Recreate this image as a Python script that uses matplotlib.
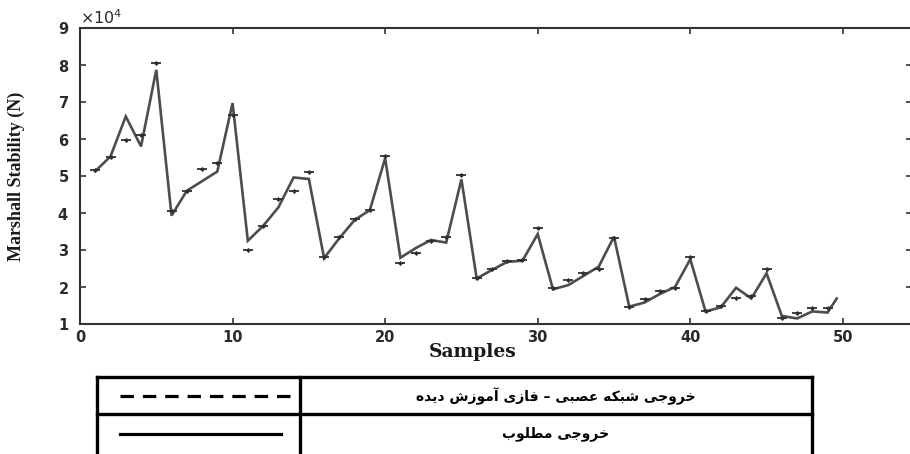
import matplotlib
matplotlib.use("Agg")
import matplotlib.pyplot as plt
from matplotlib.lines import Line2D
from matplotlib.ticker import ScalarFormatter

# ---- data -------------------------------------------------------------
# Desired (measured) Marshall stability, N
desired_x = [1, 2, 3, 4, 5, 6, 7, 8, 9, 10,
             11, 12, 13, 14, 15, 16, 17, 18, 19, 20,
             21, 22, 23, 24, 25, 26, 27, 28, 29, 30,
             31, 32, 33, 34, 35, 36, 37, 38, 39, 40,
             41, 42, 43, 44, 45, 46, 47, 48, 49, 49.6]
desired_y = [51300, 55300, 66100, 58000, 78700, 39300, 46000, 48600, 51200, 69700,
             32500, 36500, 41500, 49600, 49200, 27800, 33200, 38100, 40800, 54800,
             27900, 30500, 32700, 32000, 49100, 22300, 24600, 26800, 27100, 34300,
             19400, 20500, 23000, 25500, 33600, 14700, 15800, 18100, 20000, 27500,
             13400, 14500, 19800, 16900, 23700, 12200, 11500, 13400, 13100, 16900]

# Neural-fuzzy network output (training phase), N
network_x = list(range(1, 50))
network_y = [51500, 55200, 59700, 61200, 80500, 40500, 46000, 51800, 53500, 66500,
             29900, 36500, 43700, 46000, 51000, 28200, 33500, 38400, 40700, 55500,
             26400, 29300, 32400, 33600, 50300, 22500, 24800, 27000, 27400, 35900,
             19700, 21900, 23900, 24800, 33200, 14700, 16800, 19000, 19800, 28200,
             13500, 14900, 16900, 17600, 25000, 11500, 12900, 14200, 14200]

x_ticks = [0, 10, 20, 30, 40, 50]
y_ticks = [10000, 20000, 30000, 40000, 50000, 60000, 70000, 80000, 90000]

legend_network = "خروجی شبکه عصبی – فازی آموزش دیده"
legend_desired = "خروجی مطلوب"
x_label = "Samples"
y_label = "Marshall Stability (N)"

# ---- Arabic-script shaping (matplotlib has no text shaping) ------------
_FORMS = {  # isolated, final, initial, medial
    "\u0627": ("\uFE8D", "\uFE8E"),
    "\u0622": ("\uFE81", "\uFE82"),
    "\u062F": ("\uFEA9", "\uFEAA"),
    "\u0631": ("\uFEAD", "\uFEAE"),
    "\u0632": ("\uFEAF", "\uFEB0"),
    "\u0648": ("\uFEED", "\uFEEE"),
    "\u0628": ("\uFE8F", "\uFE90", "\uFE91", "\uFE92"),
    "\u062C": ("\uFE9D", "\uFE9E", "\uFE9F", "\uFEA0"),
    "\u062E": ("\uFEA5", "\uFEA6", "\uFEA7", "\uFEA8"),
    "\u0634": ("\uFEB5", "\uFEB6", "\uFEB7", "\uFEB8"),
    "\u0635": ("\uFEB9", "\uFEBA", "\uFEBB", "\uFEBC"),
    "\u0637": ("\uFEC1", "\uFEC2", "\uFEC3", "\uFEC4"),
    "\u0639": ("\uFEC9", "\uFECA", "\uFECB", "\uFECC"),
    "\u0641": ("\uFED1", "\uFED2", "\uFED3", "\uFED4"),
    "\u0644": ("\uFEDD", "\uFEDE", "\uFEDF", "\uFEE0"),
    "\u0645": ("\uFEE1", "\uFEE2", "\uFEE3", "\uFEE4"),
    "\u0647": ("\uFEE9", "\uFEEA", "\uFEEB", "\uFEEC"),
    "\u06CC": ("\uFBFC", "\uFBFD", "\uFBFE", "\uFBFF"),
    "\u06A9": ("\uFB8E", "\uFB8F", "\uFB90", "\uFB91"),
}


def shape_rtl(text):
    out = []
    n = len(text)
    for i, ch in enumerate(text):
        forms = _FORMS.get(ch)
        if forms is None:
            out.append(ch)
            continue
        prev = text[i - 1] if i > 0 else ""
        nxt = text[i + 1] if i < n - 1 else ""
        join_prev = prev in _FORMS and len(_FORMS[prev]) == 4
        join_next = len(forms) == 4 and nxt in _FORMS
        if join_prev and join_next:
            out.append(forms[3])
        elif join_prev:
            out.append(forms[1])
        elif join_next:
            out.append(forms[2])
        else:
            out.append(forms[0])
    return "".join(reversed(out))


# ---- figure -----------------------------------------------------------
W, H = 910, 454
fig = plt.figure(figsize=(W / 100, H / 100), dpi=100)
plt.rcParams["mathtext.fontset"] = "dejavusans"


def fx(px):
    return px / W


def fy(py):
    return 1 - py / H


ax_left, ax_right = 80, 911.5
ax = fig.add_axes([fx(ax_left), fy(324), fx(ax_right) - fx(ax_left), fy(28) - fy(324)])

line_col = "#4d4d4d"
ax.plot(desired_x, desired_y, color=line_col, lw=1.9, solid_joinstyle="miter")
ax.plot(network_x, network_y, ls="none", marker="_", ms=7, mew=1.3, color="#303030")
ax.plot(network_x, network_y, ls="none", marker="D", ms=2.6, mew=0, color="#303030")

ax.set_xlim(0, 54.5)
ax.set_ylim(10000, 90000)
ax.set_xticks(x_ticks)
ax.set_yticks(y_ticks)

fmt = ScalarFormatter(useMathText=True)
fmt.set_powerlimits((0, 0))
ax.yaxis.set_major_formatter(fmt)

for s in ax.spines.values():
    s.set_linewidth(1.5)
    s.set_color("#333333")

ax.tick_params(axis="both", which="major", direction="in", length=4, width=1.2,
               top=True, right=True, color="#333333",
               labelsize=10.5, labelcolor="#2a2a2a")
ax.tick_params(axis="y", pad=8)
ax.tick_params(axis="x", pad=4)
for lab in ax.get_xticklabels() + ax.get_yticklabels():
    lab.set_fontweight("bold")
    lab.set_fontfamily("DejaVu Sans")

off = ax.yaxis.get_offset_text()
off.set_fontsize(11.5)
off.set_color("#2a2a2a")

ax.set_ylabel(y_label, family="Liberation Serif", fontweight="bold", fontsize=13,
              color="#1a1a1a")
ax.yaxis.set_label_coords((25 - ax_left) / (ax_right - ax_left), 0.5)
ax.set_xlabel(x_label, family="DejaVu Serif", fontweight="bold", fontsize=13.5,
              color="#1a1a1a")
ax.xaxis.set_label_coords((473 - ax_left) / (ax_right - ax_left), (324 - 343) / 296)

# ---- legend table -----------------------------------------------------
tbl_lw = 2.4
left, mid, right = 97, 300, 812
top, row_mid, bottom = 377, 414, 460
for (x0, y0, x1, y1) in [(left, top, right, top), (left, row_mid, right, row_mid),
                         (left, top, left, bottom), (mid, top, mid, bottom),
                         (right, top, right, bottom)]:
    fig.add_artist(Line2D([fx(x0), fx(x1)], [fy(y0), fy(y1)], color="black",
                          lw=tbl_lw, solid_capstyle="projecting"))

fig.add_artist(Line2D([fx(120), fx(292)], [fy(396), fy(396)], color="black", lw=2.3,
                      dashes=(4.2, 2.8), dash_capstyle="butt"))
fig.add_artist(Line2D([fx(120), fx(281)], [fy(434), fy(434)], color="black", lw=2.3))

fig.text(fx(556), fy(396), shape_rtl(legend_network), ha="center", va="center",
         fontsize=10, fontweight="bold", family=["DejaVu Sans"])
fig.text(fx(556), fy(434), shape_rtl(legend_desired), ha="center", va="center",
         fontsize=10, fontweight="bold", family=["DejaVu Sans"])

fig.savefig("out.png", dpi=100)
